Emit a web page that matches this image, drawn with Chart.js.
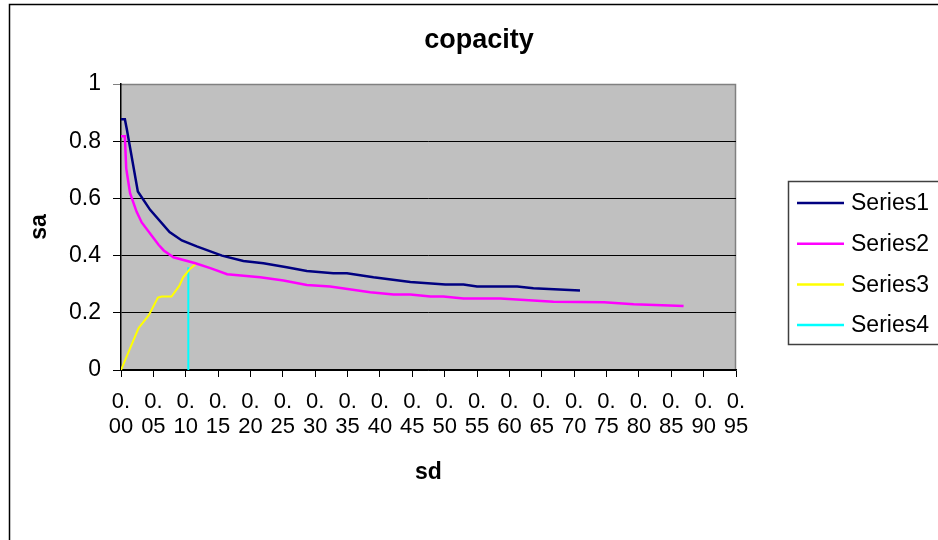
<!DOCTYPE html>
<html>
<head>
<meta charset="utf-8">
<title>copacity</title>
<script src="https://cdn.jsdelivr.net/npm/chart.js@4.4.1/dist/chart.umd.min.js"></script>
<style>
  html, body { margin: 0; padding: 0; background: #ffffff; }
  #copacity_graph { display: block; }
</style>
</head>
<body>
<canvas id="copacity_graph" width="938" height="540"></canvas>
<script>
// sd / sa readings
var s1X = [0, 0.006, 0.009, 0.026, 0.045, 0.075, 0.094, 0.117, 0.156, 0.189, 0.22, 0.256, 0.287, 0.328, 0.349, 0.39, 0.447, 0.501, 0.529, 0.55, 0.612, 0.637, 0.709];
var s1Y = [0.877, 0.877, 0.842, 0.624, 0.56, 0.482, 0.453, 0.432, 0.4, 0.381, 0.373, 0.359, 0.346, 0.338, 0.338, 0.324, 0.308, 0.299, 0.299, 0.292, 0.292, 0.286, 0.278];

var s2X = [0, 0.006, 0.008, 0.014, 0.024, 0.032, 0.058, 0.066, 0.081, 0.115, 0.138, 0.164, 0.215, 0.251, 0.287, 0.323, 0.385, 0.421, 0.447, 0.478, 0.498, 0.529, 0.586, 0.668, 0.746, 0.792, 0.869];
var s2Y = [0.817, 0.817, 0.706, 0.618, 0.554, 0.516, 0.438, 0.418, 0.394, 0.373, 0.356, 0.335, 0.324, 0.313, 0.297, 0.292, 0.272, 0.264, 0.264, 0.257, 0.257, 0.25, 0.25, 0.239, 0.237, 0.23, 0.224];

var s3X = [0, 0.027, 0.043, 0.057, 0.063, 0.078, 0.09, 0.096, 0.106, 0.115];
var s3Y = [0, 0.146, 0.192, 0.253, 0.257, 0.257, 0.294, 0.324, 0.352, 0.37];

var s4X = [0.104, 0.104];
var s4Y = [0, 0.359];

var seriesNames = ["Series1", "Series2", "Series3", "Series4"];
var seriesColors = ["#000080", "#FF00FF", "#FFFF00", "#00FFFF"];

var FONT = "'Liberation Sans', Arial, sans-serif";

function pts(xs, ys) {
    var out = [];
    for (var i = 0; i < xs.length; i++) out.push({x: xs[i], y: ys[i]});
    return out;
}

// grey plot area, outer frame, title and boxed legend
var excelLook = {
    id: 'excelLook',
    beforeDraw: function(chart) {
        var c = chart.ctx, a = chart.chartArea;
        c.save();
        c.fillStyle = "#ffffff";
        c.fillRect(0, 0, chart.width, chart.height);
        c.strokeStyle = "#000000";
        c.lineWidth = 1.5;
        c.strokeRect(9.5, 4.5, 2000, 2000);
        c.fillStyle = "#C0C0C0";
        c.fillRect(a.left, a.top, a.right - a.left, a.bottom - a.top);
        c.strokeStyle = "#808080";
        c.lineWidth = 1.5;
        c.beginPath();
        c.moveTo(a.left, a.top + 0.5);
        c.lineTo(a.right - 0.5, a.top + 0.5);
        c.lineTo(a.right - 0.5, a.bottom);
        c.stroke();

        c.fillStyle = "#000000";
        c.font = "bold 27px " + FONT;
        c.textAlign = "center";
        c.textBaseline = "alphabetic";
        c.fillText("copacity", 479, 48);
        c.restore();
    },
    afterDraw: function(chart) {
        var c = chart.ctx;
        c.save();
        c.strokeStyle = "#404040";
        c.lineWidth = 1.5;
        c.strokeRect(788.5, 181.5, 300, 163);
        c.font = "23px " + FONT;
        c.textAlign = "left";
        c.textBaseline = "middle";
        for (var i = 0; i < seriesNames.length; i++) {
            var y = 203 + i * 40.7;
            c.strokeStyle = seriesColors[i];
            c.lineWidth = 2.5;
            c.beginPath();
            c.moveTo(797, y);
            c.lineTo(844, y);
            c.stroke();
            c.fillStyle = "#000000";
            c.fillText(seriesNames[i], 851, y + 1);
        }
        c.restore();
    }
};

var xsList = [s1X, s2X, s3X, s4X];
var ysList = [s1Y, s2Y, s3Y, s4Y];
var datasets = [];
for (var k = 0; k < seriesNames.length; k++) {
    datasets.push({
        label: seriesNames[k],
        data: pts(xsList[k], ysList[k]),
        borderColor: seriesColors[k],
        backgroundColor: seriesColors[k],
        borderWidth: k < 2 ? 2.5 : 2,
        showLine: true,
        pointRadius: 0,
        tension: 0
    });
}

var config = {
    type: 'scatter',
    data: { datasets: datasets },
    options: {
        responsive: false,
        animation: false,
        layout: {
            padding: { left: 0, top: 84, right: 202, bottom: 0 }
        },
        plugins: {
            legend: { display: false },
            title: { display: false },
            tooltip: { enabled: false }
        },
        scales: {
            x: {
                type: 'linear',
                min: 0,
                max: 0.95,
                afterFit: function(scale) { scale.height = 170; },
                border: { color: "#000000", width: 1.5 },
                grid: {
                    drawOnChartArea: false,
                    drawTicks: true,
                    tickLength: 7,
                    color: "#000000"
                },
                ticks: {
                    stepSize: 0.05,
                    autoSkip: false,
                    maxRotation: 0,
                    minRotation: 0,
                    padding: 12,
                    color: "#000000",
                    font: { family: FONT, size: 22, lineHeight: 1.15 },
                    callback: function(v) {
                        var n = Math.round(v * 100);
                        return ["0.", (n < 10 ? "0" : "") + n];
                    }
                },
                title: {
                    display: true,
                    text: "sd",
                    color: "#000000",
                    font: { family: FONT, size: 23, weight: 'bold' },
                    padding: { top: 0, bottom: 54 }
                }
            },
            y: {
                min: 0,
                max: 1,
                afterFit: function(scale) { scale.width = 121; },
                border: { color: "#000000", width: 1.5 },
                grid: {
                    color: function(c) { return c.tick && c.tick.value === 1 ? "#808080" : "#000000"; },
                    lineWidth: 1,
                    tickLength: 8
                },
                ticks: {
                    stepSize: 0.2,
                    padding: 12,
                    color: "#000000",
                    font: { family: FONT, size: 23 },
                    callback: function(v) { return String(Math.round(v * 10) / 10); }
                },
                title: {
                    display: true,
                    text: "sa",
                    color: "#000000",
                    font: { family: FONT, size: 23, weight: 'bold' },
                    padding: { top: 26, bottom: 0 }
                }
            }
        }
    },
    plugins: [excelLook]
};

var ctx = document.getElementById("copacity_graph").getContext("2d");
new Chart(ctx, config);
</script>
</body>
</html>
